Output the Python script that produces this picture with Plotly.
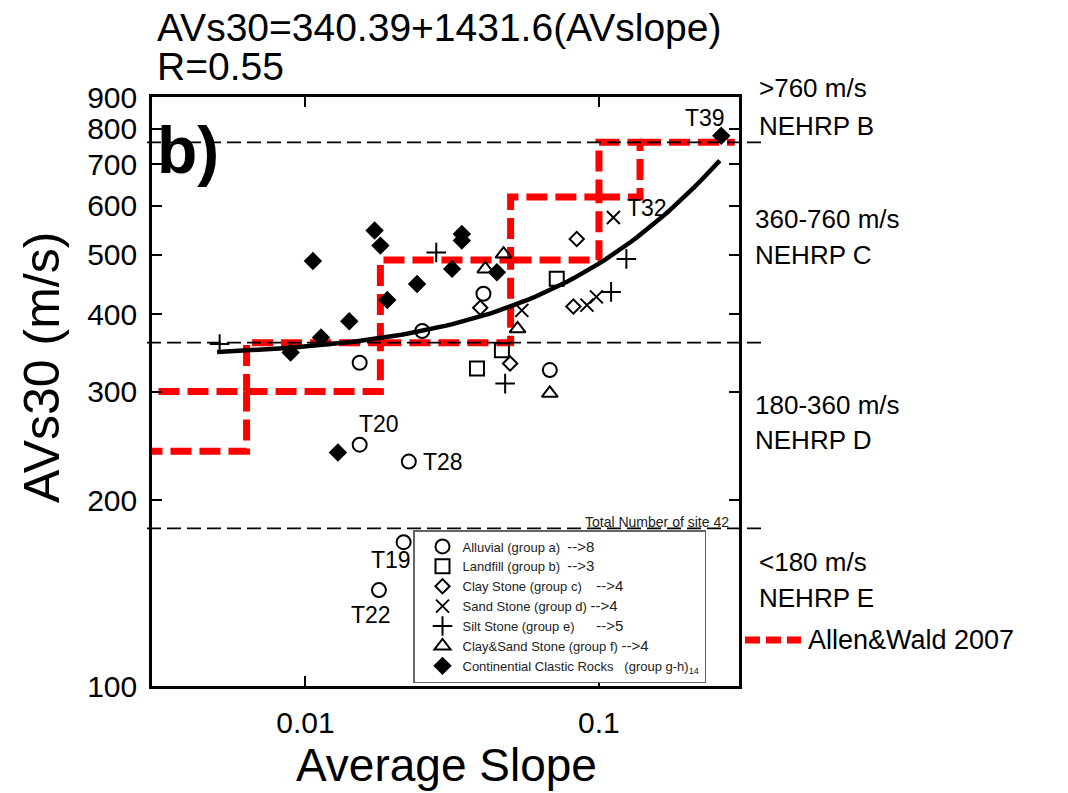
import numpy as np
import plotly.graph_objects as go

FONT = "Liberation Sans, Arial, sans-serif"

# ---------------- data ----------------
alluvial_slope = [0.025, 0.0153, 0.0153, 0.0225, 0.0404, 0.068, 0.0216, 0.0178]
alluvial_vs = [376, 334, 246, 231, 432, 325, 171, 143]
landfill_slope = [0.0718, 0.0467, 0.0384]
landfill_vs = [457, 350, 327]
claystone_slope = [0.0394, 0.0498, 0.084, 0.0818]
claystone_vs = [410, 333, 530, 412]
sandstone_slope = [0.0546, 0.112, 0.091, 0.098]
sandstone_vs = [406, 574, 414, 427]
siltstone_slope = [0.0051, 0.0279, 0.124, 0.110, 0.0479]
siltstone_vs = [358, 504, 492, 435, 309]
claysand_slope = [0.041, 0.0473, 0.0528, 0.068]
claysand_vs = [474, 501, 379, 298]
clastic_slope = [0.0106, 0.0172, 0.018, 0.019, 0.024, 0.0141, 0.0113, 0.0089,
                 0.0316, 0.0341, 0.0341, 0.0449, 0.0129, 0.261]
clastic_vs = [488, 547, 517, 422, 448, 390, 367, 347, 474, 540, 527, 468, 239, 779]

ARW = "<span style='font-size:15px'>--&gt;%s</span>"
group_names = [
    "Alluvial (group a)\u00a0\u00a0" + ARW % "8",
    "Landfill (group b)\u00a0\u00a0" + ARW % "3",
    "Clay Stone (group c)\u00a0\u00a0\u00a0\u00a0" + ARW % "4",
    "Sand Stone (group d) " + ARW % "4",
    "Silt Stone (group e)\u00a0\u00a0\u00a0\u00a0\u00a0\u00a0" + ARW % "5",
    "Clay&amp;Sand Stone (group f) " + ARW % "4",
    "Continential Clastic Rocks\u00a0\u00a0\u00a0(group g-h)<sub>14</sub>",
]

# labelled sites
site_labels = ["T39", "T32", "T20", "T28", "T19", "T22"]
site_slope = [0.261, 0.112, 0.0153, 0.0225, 0.0216, 0.0178]
site_vs = [779, 574, 246, 231, 171, 143]
site_dx = [-16, 34, 19, 34, -13, -8]
site_dy = [18, 10, 21, 0, -18, -25]

# regression AVs30 = a + b * slope
fit_a = 340.39
fit_b = 1431.6
fit_slope_range = [0.005, 0.258]

# Allen & Wald (2007) slope classes
aw_slope_lo = [0.0022, 0.0063, 0.018, 0.05, 0.1]
aw_slope_hi = [0.0063, 0.018, 0.05, 0.1, 0.138]
aw_vs_lo = [240, 300, 360, 490, 620]
aw_vs_hi = [300, 360, 490, 620, 760]
aw_b_slope = [0.138, 0.29]
aw_b_vs = 760

# NEHRP boundaries and labels
nehrp_bounds = [760, 360, 180]
nehrp_range_labels = [">760 m/s", "360-760 m/s", "180-360 m/s", "<180 m/s"]
nehrp_class_labels = ["NEHRP B", "NEHRP C", "NEHRP D", "NEHRP E"]

x_ticks = [0.01, 0.1]
x_tick_labels = ["0.01", "0.1"]
y_ticks = [100, 200, 300, 400, 500, 600, 700, 800, 900]
y_tick_labels = [str(v) for v in y_ticks]

X_RANGE = [0.003, 0.3]
Y_RANGE = [100, 900]

# ---------------- layout helpers ----------------
# page body has an 8px margin, so the figure is drawn 8px in from the top-left
OFF = 8
W, H = 1068 - OFF, 793 - OFF
L, R, T, B = 152, 739, 97, 686   # plot area in screen pixels


def px(xp):
    return (xp - L) / (R - L)


def py(yp):
    return (B - yp) / (B - T)


def yval_paper(v):
    return (np.log10(v) - np.log10(Y_RANGE[0])) / (np.log10(Y_RANGE[1]) - np.log10(Y_RANGE[0]))


fig = go.Figure()

# Allen & Wald boxes
bx, by = [], []
for s0, s1, v0, v1 in zip(aw_slope_lo, aw_slope_hi, aw_vs_lo, aw_vs_hi):
    bx += [s0, s1, s1, s0, s0, None]
    by += [v0, v0, v1, v1, v0, None]
bx += [aw_b_slope[0], aw_b_slope[1]]
by += [aw_b_vs, aw_b_vs]
fig.add_trace(go.Scatter(x=bx, y=by, mode="lines", showlegend=False,
                         line=dict(color="#ff0000", width=7, dash="21px,8px"),
                         hoverinfo="skip"))

# fit curve
fx = np.logspace(np.log10(fit_slope_range[0]), np.log10(fit_slope_range[1]), 80)
fy = fit_a + fit_b * fx
fig.add_trace(go.Scatter(x=fx, y=fy, mode="lines", showlegend=False,
                         line=dict(color="black", width=4.5)))

groups = [
    (alluvial_slope, alluvial_vs, "circle-open", 14),
    (landfill_slope, landfill_vs, "square-open", 14),
    (claystone_slope, claystone_vs, "diamond-open", 11),
    (sandstone_slope, sandstone_vs, "x-thin-open", 13),
    (siltstone_slope, siltstone_vs, "cross-thin-open", 14),
    (claysand_slope, claysand_vs, "triangle-up-open", 14),
    (clastic_slope, clastic_vs, "diamond", 12),
]
for (sx, sy, sym, size), name in zip(groups, group_names):
    fig.add_trace(go.Scatter(
        x=sx, y=sy, mode="markers", name=name,
        marker=dict(symbol=sym, size=size, color="black",
                    line=dict(color="black", width=2))))

annotations = []
for lab, sx, sy, dx, dy in zip(site_labels, site_slope, site_vs, site_dx, site_dy):
    annotations.append(dict(x=np.log10(sx), y=np.log10(sy), xref="x", yref="y",
                            text=lab, showarrow=False, xshift=dx, yshift=dy,
                            font=dict(size=23, family=FONT, color="black")))

# titles
annotations += [
    dict(x=px(155), y=py(28), xref="paper", yref="paper", xanchor="left", yanchor="middle",
         text="AVs30=340.39+1431.6(AVslope)", showarrow=False,
         font=dict(size=39, family=FONT, color="black")),
    dict(x=px(155), y=py(67), xref="paper", yref="paper", xanchor="left", yanchor="middle",
         text="R=0.55", showarrow=False, font=dict(size=39, family=FONT, color="black")),
    dict(x=px(447), y=py(765), xref="paper", yref="paper", xanchor="center", yanchor="middle",
         text="Average Slope", showarrow=False, font=dict(size=46, family=FONT, color="black")),
    dict(x=px(42), y=py(368), xref="paper", yref="paper", xanchor="center", yanchor="middle",
         text="AVs30 (m/s)", textangle=-90, showarrow=False,
         font=dict(size=50, family=FONT, color="black")),
    dict(x=px(155), y=py(150), xref="paper", yref="paper", xanchor="left", yanchor="middle",
         text="<b>b)</b>", showarrow=False, font=dict(size=66, family=FONT, color="black")),
    dict(x=px(731), y=py(522), xref="paper", yref="paper", xanchor="right", yanchor="middle",
         text="Total Number of site 42", showarrow=False,
         font=dict(size=14, family=FONT, color="#222")),
    dict(x=px(806), y=py(640), xref="paper", yref="paper", xanchor="left", yanchor="middle",
         text="Allen&amp;Wald 2007", showarrow=False,
         font=dict(size=27, family=FONT, color="black")),
]
range_y = [88, 219, 405, 562]
class_y = [126, 255, 440, 598]
range_x = [757, 753, 753, 757]
for lab, yy, xx in zip(nehrp_range_labels, range_y, range_x):
    annotations.append(dict(x=px(xx), y=py(yy), xref="paper", yref="paper",
                            xanchor="left", yanchor="middle", text=lab, showarrow=False,
                            font=dict(size=26, family=FONT, color="black")))
for lab, yy, xx in zip(nehrp_class_labels, class_y, range_x):
    annotations.append(dict(x=px(xx), y=py(yy), xref="paper", yref="paper",
                            xanchor="left", yanchor="middle", text=lab, showarrow=False,
                            font=dict(size=26, family=FONT, color="black")))

shapes = []
for v in nehrp_bounds:
    yp = yval_paper(v)
    shapes.append(dict(type="line", xref="paper", yref="paper", x0=px(147), x1=px(765),
                       y0=yp, y1=yp, line=dict(color="black", width=1.8, dash="14px,6px"),
                       layer="above"))
shapes.append(dict(type="line", xref="paper", yref="paper", x0=px(745), x1=px(801),
                   y0=py(640), y1=py(640), line=dict(color="#ff0000", width=7, dash="15px,6px")))

axis_common = dict(type="log", ticks="inside", ticklen=10, tickwidth=2, tickcolor="black",
                   showline=True, linewidth=2.5, linecolor="black", mirror="ticks",
                   showgrid=False, zeroline=False,
                   tickfont=dict(size=30, family=FONT, color="black"))

fig.update_layout(
    width=W, height=H, autosize=False,
    margin=dict(l=L - OFF, r=1068 - R, t=T - OFF, b=793 - B, pad=0),
    plot_bgcolor="white", paper_bgcolor="white",
    xaxis=dict(range=[np.log10(X_RANGE[0]), np.log10(X_RANGE[1])],
               tickvals=x_ticks, ticktext=x_tick_labels, ticklabelstandoff=8, **axis_common),
    yaxis=dict(range=[np.log10(Y_RANGE[0]), np.log10(Y_RANGE[1])],
               tickvals=y_ticks, ticktext=y_tick_labels, ticklabelstandoff=6, **axis_common),
    legend=dict(x=px(413), y=py(530), xanchor="left", yanchor="top",
                bgcolor="white", bordercolor="#666", borderwidth=1.5,
                font=dict(size=13, family=FONT, color="#222"),
                tracegroupgap=0, itemsizing="trace", indentation=8),
    annotations=annotations,
    shapes=shapes,
    font=dict(family=FONT, color="black"),
)

fig.write_html("out.html")
